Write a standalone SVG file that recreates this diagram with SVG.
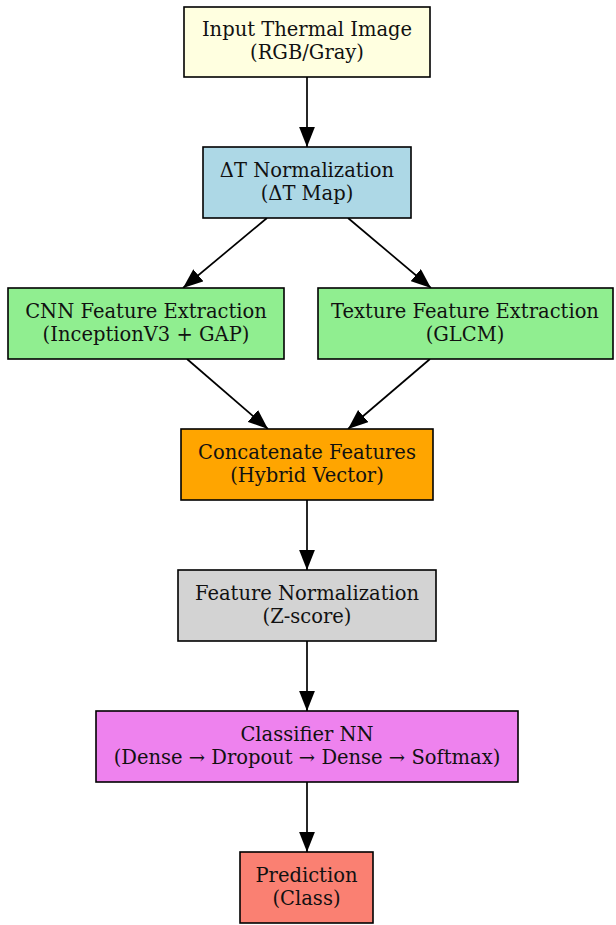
<svg xmlns="http://www.w3.org/2000/svg" width="616" height="925" viewBox="0 0 616 925">
<style>
.box{stroke:#000;stroke-width:1.6}
.t{font-family:"DejaVu Serif",serif;font-size:19.5px;fill:#111;text-anchor:middle}
.e{stroke:#000;stroke-width:1.7;fill:none}
</style>
<defs>
<marker id="arr" markerUnits="userSpaceOnUse" markerWidth="20" markerHeight="16" viewBox="0 0 19 15" refX="19" refY="7.5" orient="auto">
<path d="M0,0 L19,7.5 L0,15 z" fill="#000"/>
</marker>
</defs>
<rect width="616" height="925" fill="#fff"/>
<g id="connectors">
<line class="e" x1="307" y1="77" x2="307" y2="147" marker-end="url(#arr)"/>
<line class="e" x1="267" y1="218" x2="183" y2="288" marker-end="url(#arr)"/>
<line class="e" x1="348" y1="218" x2="431" y2="288" marker-end="url(#arr)"/>
<line class="e" x1="187" y1="359" x2="268" y2="429" marker-end="url(#arr)"/>
<line class="e" x1="430" y1="359" x2="348" y2="429" marker-end="url(#arr)"/>
<line class="e" x1="307" y1="500" x2="307" y2="570" marker-end="url(#arr)"/>
<line class="e" x1="307" y1="641" x2="307" y2="711" marker-end="url(#arr)"/>
<line class="e" x1="307" y1="782" x2="307" y2="852" marker-end="url(#arr)"/>
</g>
<g id="input">
<rect class="box" x="184" y="7" width="246" height="70" fill="#ffffe0"/>
<text class="t" x="307" y="36">Input Thermal Image</text>
<text class="t" x="307" y="59">(RGB/Gray)</text>
</g>
<g id="dt">
<rect class="box" x="203" y="147" width="208" height="71" fill="#add8e6"/>
<text class="t" x="307" y="177">ΔT Normalization</text>
<text class="t" x="307" y="200">(ΔT Map)</text>
</g>
<g id="cnn">
<rect class="box" x="8" y="288" width="276" height="71" fill="#90ee90"/>
<text class="t" x="146" y="318">CNN Feature Extraction</text>
<text class="t" x="146" y="341">(InceptionV3 + GAP)</text>
</g>
<g id="texture">
<rect class="box" x="318" y="288" width="295" height="71" fill="#90ee90"/>
<text class="t" x="465" y="318">Texture Feature Extraction</text>
<text class="t" x="465" y="341">(GLCM)</text>
</g>
<g id="concat">
<rect class="box" x="181" y="429" width="252" height="71" fill="#ffa500"/>
<text class="t" x="307" y="459">Concatenate Features</text>
<text class="t" x="307" y="482">(Hybrid Vector)</text>
</g>
<g id="fnorm">
<rect class="box" x="178" y="570" width="258" height="71" fill="#d3d3d3"/>
<text class="t" x="307" y="600">Feature Normalization</text>
<text class="t" x="307" y="623">(Z-score)</text>
</g>
<g id="classifier">
<rect class="box" x="96" y="711" width="422" height="71" fill="#ee82ee"/>
<text class="t" x="307" y="741">Classifier NN</text>
<text class="t" x="307" y="764">(Dense → Dropout → Dense → Softmax)</text>
</g>
<g id="prediction">
<rect class="box" x="240" y="852" width="133" height="71" fill="#fa8072"/>
<text class="t" x="306.5" y="882">Prediction</text>
<text class="t" x="306.5" y="905">(Class)</text>
</g>
</svg>
